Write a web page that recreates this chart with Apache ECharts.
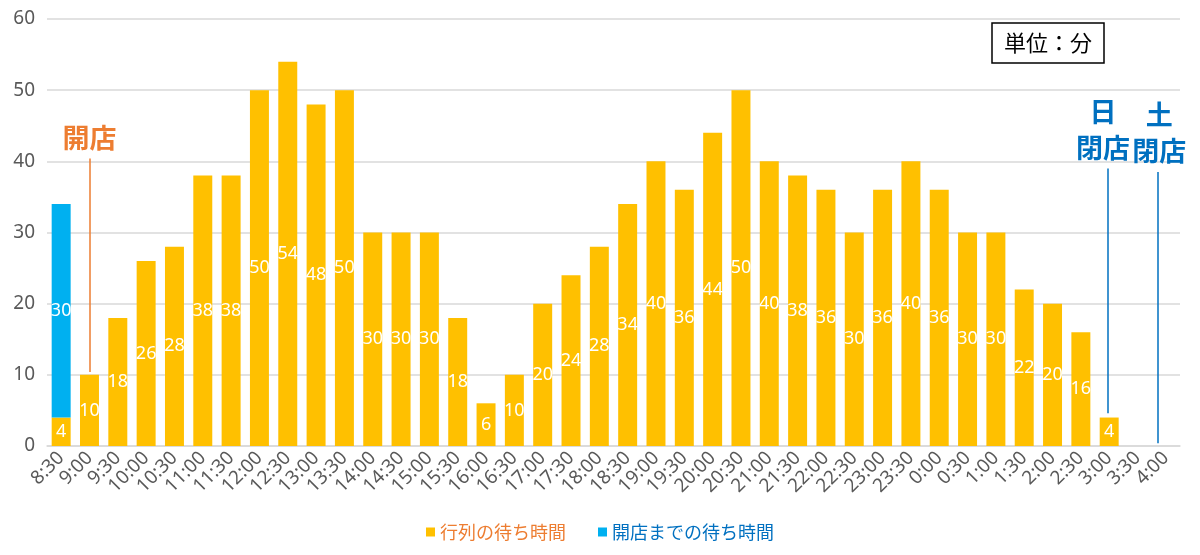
<!DOCTYPE html>
<html><head><meta charset="utf-8">
<script src="https://cdn.jsdelivr.net/npm/echarts@6/dist/echarts.min.js"></script>
<style>html,body{margin:0;padding:0;background:#fff}#c{width:1200px;height:555px}</style>
</head><body><div id="c"></div>
<script>
const categories = ['8:30','9:00','9:30','10:00','10:30','11:00','11:30','12:00','12:30','13:00','13:30','14:00','14:30','15:00','15:30','16:00','16:30','17:00','17:30','18:00','18:30','19:00','19:30','20:00','20:30','21:00','21:30','22:00','22:30','23:00','23:30','0:00','0:30','1:00','1:30','2:00','2:30','3:00','3:30','4:00'];
const queueWait = [4,10,18,26,28,38,38,50,54,48,50,30,30,30,18,6,10,20,24,28,34,40,36,44,50,40,38,36,30,36,40,36,30,30,22,20,16,4,null,null];
const preOpenWait = [30,null,null,null,null,null,null,null,null,null,null,null,null,null,null,null,null,null,null,null,null,null,null,null,null,null,null,null,null,null,null,null,null,null,null,null,null,null,null,null];
const seriesNames = ['行列の待ち時間','開店までの待ち時間'];
const yTicks = {min:0, max:60, interval:10};
// annotation lines: [x position in category index units, top value, bottom value, label]
const openLine = [1, 40.4, 10.4, '開店'];
const sunCloseLine = [36.96, 39.0, 4.6, '日\n閉店'];
const satCloseLine = [38.7, 38.5, 0.4, '土\n閉店'];
const unitText = '単位：分';

const font = '"Noto Sans CJK JP", "Noto Sans", sans-serif';
const numFont = '"Noto Sans", "DejaVu Sans", sans-serif';
const chart = echarts.init(document.getElementById('c'));
function ml(d, color, pad){
  return [{coord:[d[0], d[1]], label:{show:true, position:'start', formatter:d[3], color:color, fontSize:27, fontWeight:'bold', fontFamily:font, lineHeight:36, distance:3, padding:pad}, lineStyle:{color:color, width:1.5, type:'solid'}},
          {coord:[d[0], d[2]]}];
}
chart.setOption({
  animation:false,
  textStyle:{fontFamily:font},
  title:{text:unitText, left:992, top:23, borderColor:'#000', borderWidth:1.5, padding:[9,12,9,12],
    textStyle:{fontSize:22, fontWeight:'normal', color:'#000', fontFamily:font}},
  legend:{bottom:9, left:'center', itemWidth:9, itemHeight:9, itemGap:32, icon:'rect',
    data:[{name:seriesNames[0], textStyle:{color:'#ED7D31'}},{name:seriesNames[1], textStyle:{color:'#0070C0'}}],
    textStyle:{fontSize:18, fontFamily:font}},
  grid:{left:47, right:20, top:19, bottom:109, containLabel:false},
  xAxis:[{type:'category', data:categories, axisTick:{show:false},
    axisLine:{lineStyle:{color:'#d9d9d9', width:1.5}},
    axisLabel:{rotate:45, fontSize:19, color:'#595959', interval:0, margin:9, fontFamily:numFont}},
    {type:'value', min:-0.5, max:39.5, show:false}],
  yAxis:{type:'value', min:yTicks.min, max:yTicks.max, interval:yTicks.interval,
    axisLine:{show:false}, axisTick:{show:false},
    splitLine:{lineStyle:{color:'#d9d9d9', width:1.5}},
    axisLabel:{fontSize:19, color:'#595959', margin:12, fontFamily:numFont}},
  series:[
    {name:seriesNames[0], type:'bar', stack:'a', data:queueWait, barCategoryGap:'33%',
      itemStyle:{color:'#FFC000'},
      label:{show:true, position:'inside', color:'#fff', fontSize:18, fontFamily:numFont}},
    {name:seriesNames[1], type:'bar', stack:'a', data:preOpenWait,
      itemStyle:{color:'#00B0F0'},
      label:{show:true, position:'inside', color:'#fff', fontSize:18, fontFamily:numFont}},
    {name:'annot', type:'scatter', xAxisIndex:1, data:[], silent:true,
      markLine:{silent:true, symbol:'none', animation:false,
        data:[ml(openLine,'#ED7D31',[0,0,0,0]), ml(sunCloseLine,'#0070C0',[0,10,0,0]), ml(satCloseLine,'#0070C0',[0,0,0,4])]}}
  ]
});
</script></body></html>
